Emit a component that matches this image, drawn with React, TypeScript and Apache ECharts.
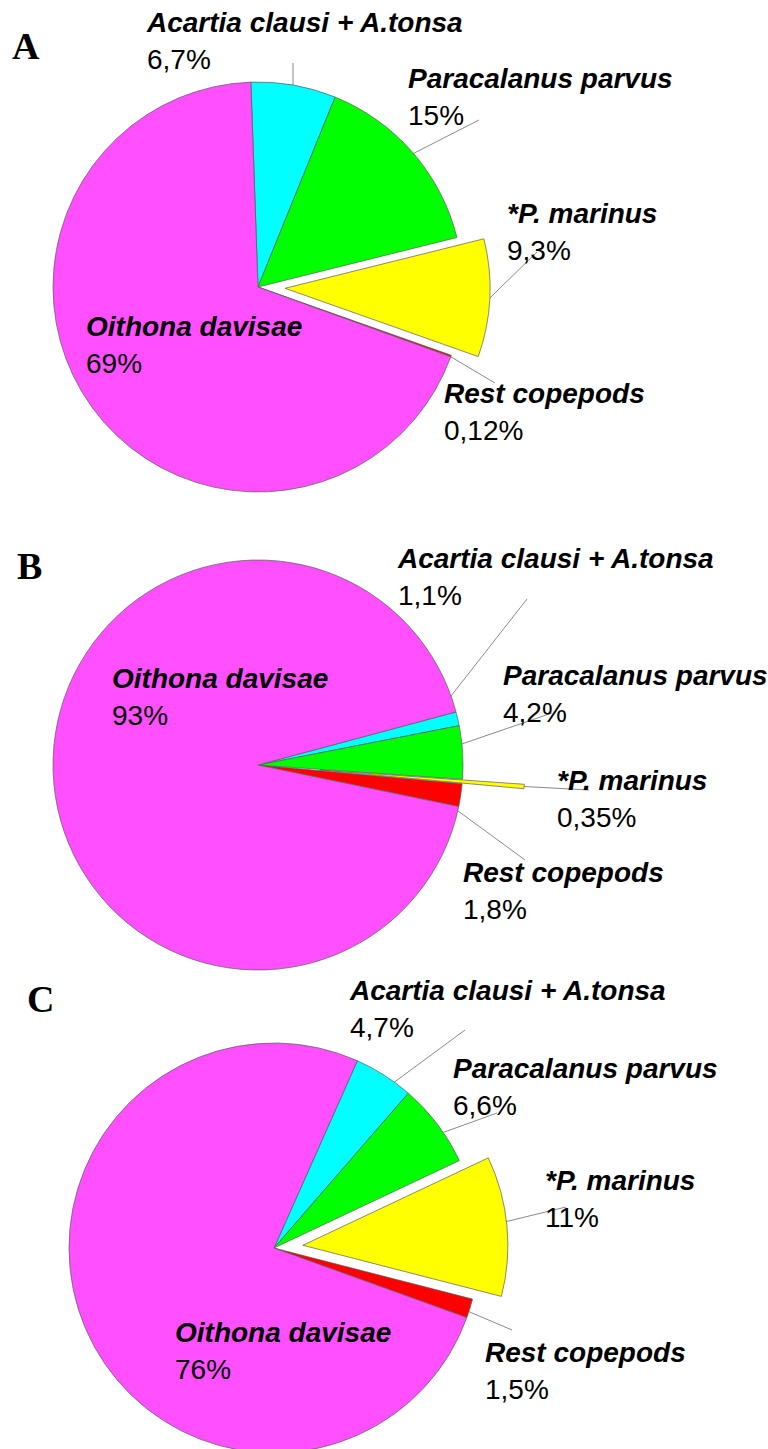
import React, { useEffect, useRef } from 'react';
import * as echarts from 'echarts';

// ---- data ----
const categories = [
  'Acartia clausi + A.tonsa',
  'Paracalanus parvus',
  '*P. marinus',
  'Rest copepods',
  'Oithona davisae',
];
const valuesA = [6.7, 15, 9.3, 0.12, 69];
const valuesB = [1.1, 4.2, 0.35, 1.8, 93];
const valuesC = [4.7, 6.6, 11, 1.5, 76];
const panelLetters = ['A', 'B', 'C'];
const explodedIndex = 2;
const insideLabelIndex = 4;

// ---- styles / layout ----
const sliceColors = ['#00FFFF', '#00FF00', '#FFFF00', '#FF0000', '#FF4FFF'];
const RADIUS = 205;
const FONT = '"Liberation Sans", Arial, sans-serif';
const LINE_H = 37;

const panels = [
  {
    values: valuesA,
    center: [258, 287],
    startAngle: 92,
    offset: 27,
    lineStart: 0.98,
    lineStartExploded: 1.0,
    letterPos: [12, 46],
    labelPos: [[147, 12], [408, 68], [507, 203], [444, 383], [86, 316]],
    lineEnd: [[293, 63], [479, 120], [537, 252], [495, 383], null],
  },
  {
    values: valuesB,
    center: [258, 765],
    startAngle: 15,
    offset: 62,
    lineStart: 0.85,
    lineStartExploded: 1.0,
    letterPos: [17, 566],
    labelPos: [[398, 548], [503, 665], [557, 770], [463, 862], [112, 668]],
    lineEnd: [[527, 599], [552, 713], [589, 790], [525, 860], null],
  },
  {
    values: valuesC,
    center: [274, 1248],
    startAngle: 66,
    offset: 29,
    lineStart: 0.84,
    lineStartExploded: 0.85,
    letterPos: [27, 999],
    labelPos: [[350, 980], [453, 1058], [545, 1170], [485, 1342], [175, 1322]],
    lineEnd: [[465, 1030], [497, 1113], [566, 1207], [512, 1330], null],
  },
];

const fmtPct = (v: number) => String(v).replace('.', ',') + '%';

const richStyles = {
  n: {
    fontFamily: FONT,
    fontSize: 28,
    fontWeight: 'bold',
    fontStyle: 'italic',
    lineHeight: LINE_H,
    color: '#000',
  },
  p: {
    fontFamily: FONT,
    fontSize: 28,
    lineHeight: LINE_H,
    color: '#000',
  },
};

export default function App() {
  const ref = useRef<HTMLDivElement>(null);

  useEffect(() => {
    if (!ref.current) return;
    const chart = echarts.init(ref.current, null, { renderer: 'svg' });

    const series: any[] = [];
    panels.forEach((pn) => {
      // centre of the pulled-out slice, from the data's own angles
      const total = pn.values.reduce((a, b) => a + b, 0);
      const before = pn.values.slice(0, explodedIndex).reduce((a, b) => a + b, 0);
      const midDeg =
        pn.startAngle - ((before + pn.values[explodedIndex] / 2) / total) * 360;
      const midRad = (midDeg * Math.PI) / 180;
      const exCenter = [
        pn.center[0] + pn.offset * Math.cos(midRad),
        pn.center[1] - pn.offset * Math.sin(midRad),
      ];

      const makeSeries = (exploded: boolean) => {
        const c = exploded ? exCenter : pn.center;
        const f = exploded ? pn.lineStartExploded : pn.lineStart;
        return {
          type: 'pie',
          radius: RADIUS,
          center: c,
          startAngle: pn.startAngle,
          clockwise: true,
          avoidLabelOverlap: false,
          silent: true,
          animation: false,
          itemStyle: { borderColor: '#5a5a5a', borderWidth: 0.7 },
          label: {
            show: true,
            position: 'outside',
            color: '#000',
            formatter: (p: any) => `{n|${p.name}}\n{p|${fmtPct(p.value)}}`,
            rich: richStyles,
          },
          labelLine: {
            show: true,
            length: 10,
            length2: 10,
            lineStyle: { color: '#8a8a8a', width: 1 },
          },
          labelLayout: (params: any) => {
            const i = params.dataIndex;
            const [lx, capTop] = pn.labelPos[i];
            const res: any = {
              x: lx,
              y: capTop - 8.5,
              align: 'left',
              verticalAlign: 'top',
            };
            const end = pn.lineEnd[i];
            const pts = params.labelLinePoints;
            if (end && pts && pts.length) {
              const dx = pts[0][0] - c[0];
              const dy = pts[0][1] - c[1];
              const d = Math.hypot(dx, dy) || 1;
              const ux = dx / d;
              const uy = dy / d;
              const start = [c[0] + ux * RADIUS * f, c[1] + uy * RADIUS * f];
              res.labelLinePoints = [start, end, end];
            }
            return res;
          },
          emphasis: { disabled: true },
          data: categories.map((name, i) => {
            const visible = exploded ? i === explodedIndex : i !== explodedIndex;
            return {
              name,
              value: pn.values[i],
              itemStyle: visible
                ? { color: sliceColors[i] }
                : { color: 'rgba(0,0,0,0)', borderWidth: 0 },
              label: { show: visible },
              labelLine: { show: visible && i !== insideLabelIndex },
            };
          }),
        };
      };
      series.push(makeSeries(false));
      series.push(makeSeries(true));
    });

    const graphic = panels.map((pn, k) => ({
      type: 'text',
      x: pn.letterPos[0],
      y: pn.letterPos[1],
      silent: true,
      style: {
        text: panelLetters[k],
        font: 'bold 38px "Liberation Serif", "Times New Roman", serif',
        fill: '#000',
        align: 'left',
        verticalAlign: 'middle',
      },
    }));

    chart.setOption({
      animation: false,
      backgroundColor: '#fff',
      series,
      graphic,
    } as any);

    return () => chart.dispose();
  }, []);

  return (
    <div
      ref={ref}
      style={{ position: 'absolute', left: 0, top: 0, width: 768, height: 1449 }}
    />
  );
}
